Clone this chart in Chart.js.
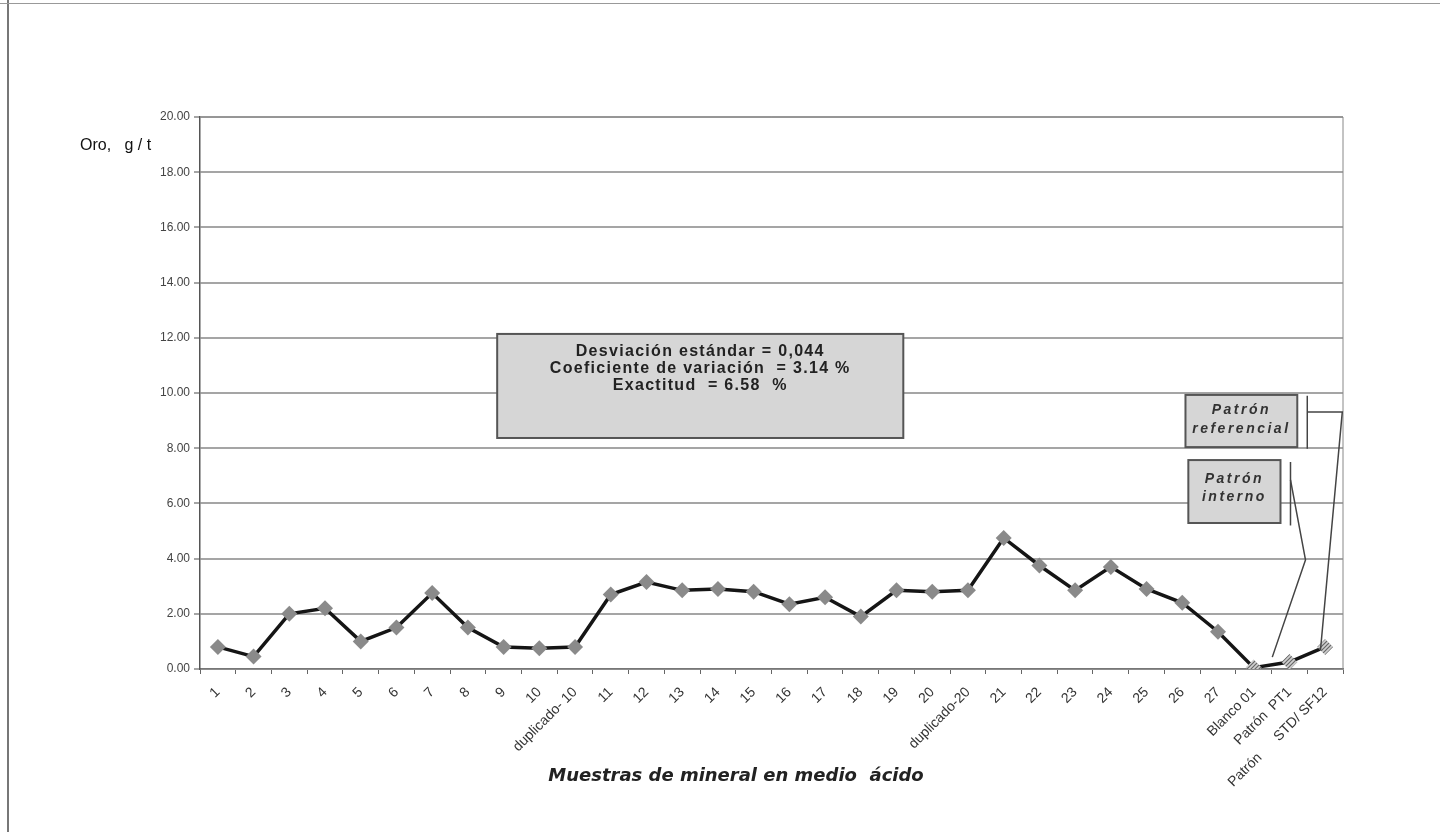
<!DOCTYPE html>
<html>
<head>
<meta charset="utf-8">
<script src="https://cdn.jsdelivr.net/npm/chart.js@4"></script>
<style>
  body { margin: 0; background: #fff; }
  #frame { position: absolute; left: 0; top: 0; width: 1440px; height: 832px; }
  #frame:before { content: ""; position: absolute; left: 7px; top: 0; width: 2px; height: 832px; background: #777; }
  #frame:after { content: ""; position: absolute; left: 0; top: 3px; width: 1440px; height: 1px; background: #999; }
  canvas { position: absolute; left: 0; top: 0; }
</style>
</head>
<body>
<div id="frame"><canvas id="graph" width="1440" height="832"></canvas></div>
<script>
// Muestras y leyes de oro (g/t)

var muestras = ["1", "2", "3", "4", "5", "6", "7", "8", "9", "10", "duplicado- 10",
  "11", "12", "13", "14", "15", "16", "17", "18", "19", "20", "duplicado-20",
  "21", "22", "23", "24", "25", "26", "27", "Blanco 01", "Patrón  PT1", "Patrón      STD/ SF12"];
var oro = [0.8, 0.45, 2.0, 2.2, 1.0, 1.5, 2.75, 1.5, 0.8, 0.75, 0.8,
  2.7, 3.15, 2.85, 2.9, 2.8, 2.35, 2.6, 1.9, 2.85, 2.8, 2.85,
  4.75, 3.75, 2.85, 3.7, 2.9, 2.4, 1.35, 0.05, 0.25, 0.8];
var yTicks = [0, 2, 4, 6, 8, 10, 12, 14, 16, 18, 20];
var estadisticas = ["Desviación estándar = 0,044", "Coeficiente de variación  = 3.14 %", "Exactitud  = 6.58  %"];

// trama rayada para blanco y patrones
function hatch() {
  var c = document.createElement("canvas");
  c.width = 4; c.height = 4;
  var g = c.getContext("2d");
  g.fillStyle = "#d0d0d0";
  g.fillRect(0, 0, 4, 4);
  g.strokeStyle = "#666";
  g.lineWidth = 1.2;
  g.beginPath();
  g.moveTo(0, 4); g.lineTo(4, 0);
  g.moveTo(-1, 1); g.lineTo(1, -1);
  g.moveTo(3, 5); g.lineTo(5, 3);
  g.stroke();
  return document.getElementById("graph").getContext("2d").createPattern(c, "repeat");
}
var rayado = hatch();
var pointFill = oro.map(function (v, i) { return i >= 29 ? rayado : "#8a8a8a"; });

var annotations = {
  id: "annotations",
  afterDraw: function (chart) {
    var ctx = chart.ctx;
    var x = chart.scales.x, y = chart.scales.y;
    var a = chart.chartArea;
    ctx.save();

    // borde del area
    ctx.strokeStyle = "#888";
    ctx.lineWidth = 1;
    ctx.beginPath();
    ctx.moveTo(a.left, a.top);
    ctx.lineTo(a.right, a.top);
    ctx.lineTo(a.right, a.bottom);
    ctx.stroke();

    function box(i0, i1, v0, v1) {
      var l = x.getPixelForValue(i0), r = x.getPixelForValue(i1);
      var t = y.getPixelForValue(v0), b = y.getPixelForValue(v1);
      ctx.fillStyle = "#d6d6d6";
      ctx.fillRect(l, t, r - l, b - t);
      ctx.strokeStyle = "#555";
      ctx.lineWidth = 2;
      ctx.strokeRect(l, t, r - l, b - t);
      return { l: l, r: r, t: t, b: b, cx: (l + r) / 2 };
    }
    function line(pts) {
      ctx.beginPath();
      pts.forEach(function (p, k) {
        var px = x.getPixelForValue(p[0]), py = y.getPixelForValue(p[1]);
        if (k === 0) ctx.moveTo(px, py); else ctx.lineTo(px, py);
      });
      ctx.stroke();
    }

    // cuadro de estadisticas
    var m = box(7.82, 19.19, 12.14, 8.37);
    ctx.fillStyle = "#222";
    ctx.font = "bold 16px 'Liberation Sans', Arial";
    ctx.letterSpacing = "1.3px";
    ctx.textAlign = "center";
    ctx.textBaseline = "middle";
    estadisticas.forEach(function (s, k) {
      ctx.fillText(s, m.cx, m.t + 18 + k * 17);
    });

    // patron referencial
    var p1 = box(27.09, 30.22, 9.93, 8.04);
    ctx.fillStyle = "#333";
    ctx.font = "bold italic 14px 'Liberation Sans', Arial";
    ctx.letterSpacing = "2.5px";
    ctx.fillText("Patrón", p1.cx, p1.t + 15);
    ctx.fillText("referencial", p1.cx, p1.t + 34);

    // patron interno
    var p2 = box(27.17, 29.75, 7.57, 5.29);
    ctx.fillStyle = "#333";
    ctx.fillText("Patrón", p2.cx, p2.t + 19);
    ctx.fillText("interno", p2.cx, p2.t + 37);
    ctx.letterSpacing = "0px";

    ctx.strokeStyle = "#444";
    ctx.lineWidth = 1.5;
    line([[30.5, 9.9], [30.5, 7.98]]);
    line([[30.5, 9.31], [31.48, 9.31], [30.87, 0.69]]);
    line([[30.03, 7.5], [30.03, 5.2]]);
    line([[30.03, 6.85], [30.45, 3.95], [29.52, 0.43]]);

    // titulos
    ctx.fillStyle = "#111";
    ctx.font = "16px 'Liberation Sans', Arial";
    ctx.textAlign = "left";
    ctx.fillText("Oro,   g / t", 80, 146);
    ctx.font = "bold italic 18px 'DejaVu Sans'";
    ctx.textAlign = "center";
    ctx.fillStyle = "#222";
    ctx.fillText("Muestras de mineral en medio  ácido", 736, 776);
    ctx.restore();
  }
};

var graph = new Chart(document.getElementById("graph"), {
  type: "line",
  data: {
    labels: muestras,
    datasets: [
      {
        label: "Oro, g/t",
        data: oro,
        borderColor: "#151515",
        borderWidth: 3.5,
        pointStyle: "rectRot",
        pointRadius: 8,
        pointBackgroundColor: pointFill,
        pointBorderColor: pointFill,
        pointBorderWidth: 0,
        tension: 0,
      },
    ],
  },
  plugins: [annotations],
  options: {
    responsive: false,
    animation: false,
    layout: {
      padding: { left: 0, top: 117, right: 97, bottom: 3 },
    },
    plugins: {
      legend: { display: false },
      tooltip: { enabled: false },
    },
    scales: {
      x: {
        offset: true,
        afterFit: function (s) { s.height = 160; },
        grid: {
          display: true,
          drawOnChartArea: false,
          offset: true,
          color: "#666",
          tickLength: 5,
        },
        border: { color: "#777", width: 1.5 },
        ticks: {
          autoSkip: false,
          minRotation: 45,
          maxRotation: 45,
          padding: 10,
          color: "#333",
          font: { size: 14, family: "'Liberation Sans', Arial" },
        },
      },
      y: {
        min: 0,
        max: 20,
        afterFit: function (s) { s.width = 200; },
        afterBuildTicks: function (s) {
          s.ticks = yTicks.map(function (v) { return { value: v }; });
        },
        grid: {
          color: "#a5a5a5",
          lineWidth: 2,
          tickLength: 6,
        },
        border: { color: "#555", width: 1.5 },
        ticks: {
          color: "#444",
          padding: 4,
          font: { size: 12, family: "'Liberation Sans', Arial" },
          callback: function (v) { return v.toFixed(2); },
        },
      },
    },
  },
});
</script>
</body>
</html>
